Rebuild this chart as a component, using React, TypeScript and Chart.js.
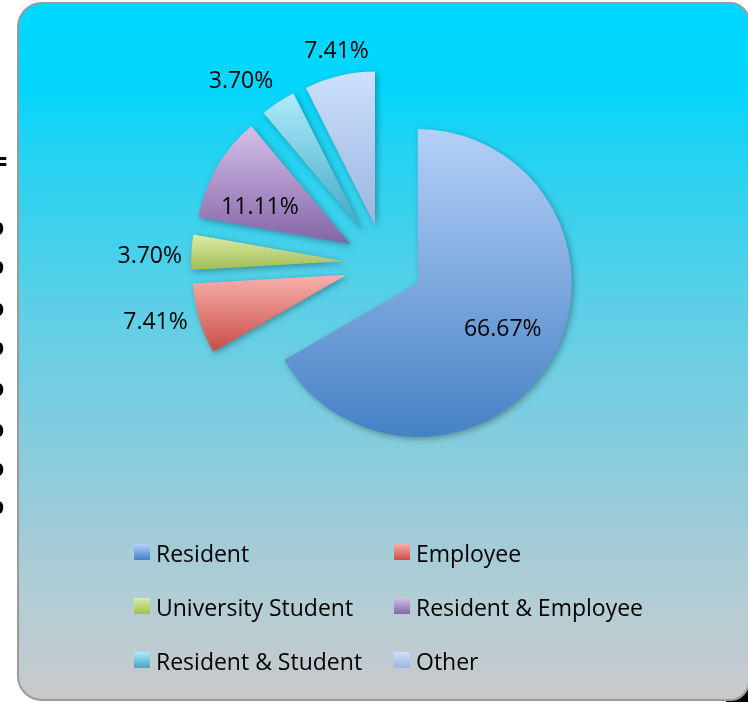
import React, { useEffect, useRef } from 'react';
import { Chart, registerables } from 'chart.js';

Chart.register(...registerables);

// ---------- data ----------
const categories = ['Resident', 'Employee', 'University Student', 'Resident & Employee', 'Resident & Student', 'Other'];
const shares = [66.67, 7.41, 3.7, 11.11, 3.7, 7.41];
const shareLabels = ['66.67%', '7.41%', '3.70%', '11.11%', '3.70%', '7.41%'];
const clippedSideText = ['=', '0', '0', '0', '0', '0', '0', '0', '0'];

// ---------- styles / layout ----------
const topColors = ['#b4d0f8', '#f8b0ad', '#dbeda5', '#d4bfe8', '#b0eafb', '#cce0fd'];
const bottomColors = ['#4581c5', '#c84e48', '#a2bd56', '#8465a7', '#3da7c3', '#9bb5df'];
const labelRadius = [0.625, 1.277, 1.269, 0.637, 1.259, 1.167];
const labelNudgeDeg = [-2, 3, -1.5, -7, -5.5, 1];
const RADIUS = 154;
const EXPLODE = 39;
const FONT = '"Open Sans", "Noto Sans", sans-serif';
const W = 748;
const H = 702;

type Geom = { cx: number; cy: number; start: number; end: number };

function sliceGeom(area: any, i: number): Geom {
  const total = shares.reduce((a, b) => a + b, 0);
  let cum = 0;
  for (let k = 0; k < i; k++) cum += shares[k];
  const start = -Math.PI / 2 + (cum / total) * Math.PI * 2;
  const end = start + (shares[i] / total) * Math.PI * 2;
  const mid = (start + end) / 2;
  const cx = (area.left + area.right) / 2 + Math.cos(mid) * EXPLODE;
  const cy = (area.top + area.bottom) / 2 + Math.sin(mid) * EXPLODE;
  return { cx, cy, start, end };
}

function verticalBounds(g: Geom) {
  const ys = [g.cy, g.cy + Math.sin(g.start) * RADIUS, g.cy + Math.sin(g.end) * RADIUS];
  for (let k = -2; k <= 4; k++) {
    const a = (k * Math.PI) / 2;
    if (a >= g.start - 1e-9 && a <= g.end + 1e-9) ys.push(g.cy + Math.sin(a) * RADIUS);
  }
  return { top: Math.min(...ys), bottom: Math.max(...ys) };
}

function roundRect(ctx: CanvasRenderingContext2D, x: number, y: number, w: number, h: number, r: number, r2: number) {
  ctx.beginPath();
  ctx.moveTo(x + r, y);
  ctx.lineTo(x + w - r2, y);
  ctx.arcTo(x + w, y, x + w, y + r2, r2);
  ctx.lineTo(x + w, y + h - r2);
  ctx.arcTo(x + w, y + h, x + w - r2, y + h, r2);
  ctx.lineTo(x + r, y + h);
  ctx.arcTo(x, y + h, x, y + h - r, r);
  ctx.lineTo(x, y + r);
  ctx.arcTo(x, y, x + r, y, r);
  ctx.closePath();
}

const backgroundPlugin = {
  id: 'panelBackground',
  beforeDraw(chart: any) {
    const ctx: CanvasRenderingContext2D = chart.ctx;
    ctx.save();
    ctx.fillStyle = '#ffffff';
    ctx.fillRect(0, 0, W, H);
    // clipped text from a neighbouring object
    ctx.fillStyle = '#000';
    ctx.textAlign = 'right';
    ctx.textBaseline = 'alphabetic';
    ctx.font = 'bold 26px "DejaVu Sans", sans-serif';
    ctx.fillText(clippedSideText[0], 9, 170);
    ctx.font = 'bold 17px "DejaVu Sans", sans-serif';
    const dotYs = [229, 268, 310, 349, 390, 431, 470, 508];
    for (let k = 1; k < clippedSideText.length; k++) {
      ctx.fillText(clippedSideText[k], 4, dotYs[k - 1] + 6);
    }
    // black corner behind panel
    ctx.fillStyle = '#000';
    ctx.fillRect(726, 680, 30, 30);
    // panel
    const px = 18, py = 3, pw = 731, ph = 697;
    const grad = ctx.createLinearGradient(0, py, 0, py + ph);
    grad.addColorStop(0, '#00d8ff');
    grad.addColorStop(0.12, '#03d6fc');
    grad.addColorStop(0.2, '#1fd3f3');
    grad.addColorStop(0.45, '#5fcfe6');
    grad.addColorStop(0.74, '#9ccbd8');
    grad.addColorStop(0.86, '#b3cdd4');
    grad.addColorStop(1, '#c9c9cb');
    roundRect(ctx, px, py, pw, ph, 24, 19);
    ctx.fillStyle = grad;
    ctx.fill();
    ctx.lineWidth = 2;
    ctx.strokeStyle = '#9a9a9a';
    ctx.stroke();
    ctx.restore();
  },
};

const explodePlugin = {
  id: 'explodeSlices',
  afterDatasetUpdate(chart: any, args: any) {
    args.meta.data.forEach((arc: any) => {
      const mid = (arc.startAngle + arc.endAngle) / 2;
      arc.x += Math.cos(mid) * EXPLODE;
      arc.y += Math.sin(mid) * EXPLODE;
    });
  },
};

const shadowPlugin = {
  id: 'sliceShadow',
  beforeDatasetsDraw(chart: any) {
    const ctx = chart.ctx;
    ctx.save();
    ctx.shadowColor = 'rgba(0,0,0,0.32)';
    ctx.shadowBlur = 6;
    ctx.shadowOffsetX = 2;
    ctx.shadowOffsetY = 2;
  },
  afterDatasetsDraw(chart: any) {
    chart.ctx.restore();
  },
};

const labelsPlugin = {
  id: 'sliceLabels',
  afterDraw(chart: any) {
    const ctx: CanvasRenderingContext2D = chart.ctx;
    const meta = chart.getDatasetMeta(0);
    ctx.save();
    ctx.fillStyle = '#000';
    ctx.font = `23px ${FONT}`;
    ctx.textAlign = 'center';
    ctx.textBaseline = 'alphabetic';
    meta.data.forEach((arc: any, i: number) => {
      const mid = (arc.startAngle + arc.endAngle) / 2 + (labelNudgeDeg[i] * Math.PI) / 180;
      const d = labelRadius[i] * arc.outerRadius;
      const x = arc.x + Math.cos(mid) * d;
      const y = arc.y + Math.sin(mid) * d;
      ctx.fillText(shareLabels[i], x, y + 8);
    });
    // legend
    const colX = [134, 394];
    const rowTop = [544, 598, 652];
    ctx.textAlign = 'left';
    categories.forEach((name, i) => {
      const x = colX[i % 2];
      const y = rowTop[Math.floor(i / 2)];
      const g = ctx.createLinearGradient(0, y, 0, y + 16);
      g.addColorStop(0, topColors[i]);
      g.addColorStop(1, bottomColors[i]);
      ctx.fillStyle = g;
      ctx.fillRect(x, y, 16, 16);
      ctx.fillStyle = '#000';
      ctx.fillText(name, x + 22, y + 18);
    });
    ctx.restore();
  },
};

export default function App() {
  const canvasRef = useRef<HTMLCanvasElement>(null);

  useEffect(() => {
    if (!canvasRef.current) return;
    const chart = new Chart(canvasRef.current, {
      type: 'pie',
      data: {
        labels: categories,
        datasets: [
          {
            data: shares,
            radius: RADIUS,
            borderWidth: 0,
            clip: false,
            backgroundColor: (c: any) => {
              const i = c.dataIndex ?? 0;
              const area = c.chart.chartArea;
              if (!area) return topColors[i];
              const g = sliceGeom(area, i);
              const b = verticalBounds(g);
              const grad = c.chart.ctx.createLinearGradient(0, b.top, 0, b.bottom);
              grad.addColorStop(0, topColors[i]);
              grad.addColorStop(1, bottomColors[i]);
              return grad;
            },
          } as any,
        ],
      },
      options: {
        responsive: false,
        animation: false,
        events: [],
        layout: { padding: { left: 40, right: 20, top: 30, bottom: 205 } },
        plugins: {
          legend: { display: false },
          tooltip: { enabled: false },
          title: { display: false },
        },
      },
      plugins: [backgroundPlugin, explodePlugin, shadowPlugin, labelsPlugin],
    });
    return () => chart.destroy();
  }, []);

  return (
    <div style={{ position: 'absolute', left: 0, top: 0, width: W, height: H }}>
      <canvas ref={canvasRef} width={W} height={H} style={{ display: 'block' }} />
    </div>
  );
}
